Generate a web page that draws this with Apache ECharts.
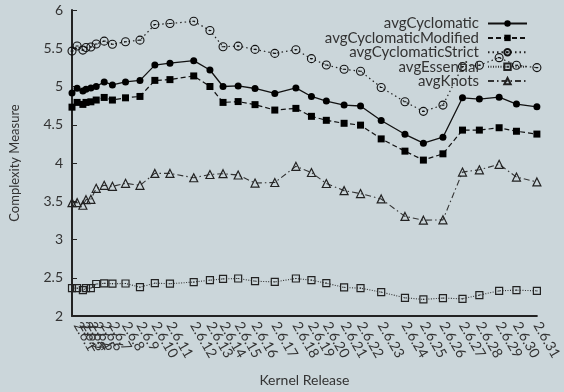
<!DOCTYPE html>
<html>
<head>
<meta charset="utf-8">
<script src="https://cdn.jsdelivr.net/npm/echarts@6/dist/echarts.min.js"></script>
<style>
  html, body { margin: 0; padding: 0; background: #cbd6da; }
  #chart { width: 564px; height: 392px; }
</style>
</head>
<body>
<div id="chart"></div>
<script>
// Linux 2.6 kernel releases and their release dates (x positions come from the dates)
const releases = ['2.6.0','2.6.1','2.6.2','2.6.3','2.6.4','2.6.5','2.6.6','2.6.7','2.6.8','2.6.9',
  '2.6.10','2.6.11','2.6.12','2.6.13','2.6.14','2.6.15','2.6.16','2.6.17','2.6.18','2.6.19',
  '2.6.20','2.6.21','2.6.22','2.6.23','2.6.24','2.6.25','2.6.26','2.6.27','2.6.28','2.6.29',
  '2.6.30','2.6.31'];
const releaseDates = ['2003-12-17','2004-01-09','2004-02-04','2004-02-18','2004-03-11','2004-04-04',
  '2004-05-10','2004-06-16','2004-08-14','2004-10-18','2004-12-24','2005-03-02','2005-06-17',
  '2005-08-29','2005-10-27','2006-01-03','2006-03-20','2006-06-17','2006-09-20','2006-11-29',
  '2007-02-04','2007-04-25','2007-07-08','2007-10-09','2008-01-24','2008-04-16','2008-07-13',
  '2008-10-09','2008-12-24','2009-03-23','2009-06-09','2009-09-09'];

// Average complexity measures per release
const avgCyclomatic = [4.915, 4.976, 4.94, 4.965, 4.98, 5.0, 5.06, 5.02, 5.06, 5.08, 5.28, 5.305,
  5.338, 5.216, 5.0, 5.008, 4.974, 4.909, 4.982, 4.87, 4.81, 4.757, 4.745, 4.555, 4.375, 4.259,
  4.337, 4.852, 4.835, 4.861, 4.77, 4.735];
const avgCyclomaticModified = [4.73, 4.792, 4.766, 4.792, 4.8, 4.823, 4.857, 4.823, 4.852, 4.87,
  5.08, 5.09, 5.138, 5.0, 4.792, 4.803, 4.763, 4.692, 4.714, 4.61, 4.558, 4.519, 4.495, 4.315,
  4.155, 4.038, 4.12, 4.43, 4.43, 4.461, 4.415, 4.378];
const avgCyclomaticStrict = [5.463, 5.53, 5.476, 5.51, 5.517, 5.555, 5.593, 5.552, 5.585, 5.606,
  5.81, 5.823, 5.853, 5.732, 5.52, 5.528, 5.485, 5.433, 5.481, 5.364, 5.281, 5.225, 5.2, 4.987,
  4.8, 4.675, 4.757, 5.26, 5.277, 5.377, 5.277, 5.247];
const avgEssential = [2.364, 2.364, 2.338, 2.364, 2.364, 2.418, 2.427, 2.422, 2.425, 2.377, 2.429,
  2.422, 2.444, 2.468, 2.485, 2.49, 2.455, 2.446, 2.49, 2.468, 2.429, 2.373, 2.364, 2.312, 2.238,
  2.217, 2.234, 2.225, 2.273, 2.329, 2.338, 2.329];
const avgKnots = [3.482, 3.482, 3.448, 3.521, 3.525, 3.669, 3.708, 3.695, 3.734, 3.708, 3.864,
  3.864, 3.807, 3.85, 3.86, 3.843, 3.738, 3.745, 3.957, 3.876, 3.732, 3.639, 3.6, 3.53, 3.302,
  3.253, 3.257, 3.881, 3.911, 3.983, 3.816, 3.753];

// y axis range and step
const yMin = 2, yMax = 6, yStep = 0.5;

const BG = '#cbd6da';
const FONT = 'Lato, "Open Sans", sans-serif';
const DAY_MS = 86400000;
const dayOf = s => Math.round(Date.parse(s + 'T00:00:00Z') / DAY_MS);
const releaseDays = releaseDates.map(dayOf);
const nameByDay = {};
releaseDays.forEach((d, i) => { nameByDay[d] = releases[i]; });
const pairs = vals => releaseDays.map((d, i) => [d, vals[i]]);

// point shapes: ring with a bar, box with a dot
const ringBar = 'path://M0,10A10,10 0 1 1 20,10A10,10 0 1 1 0,10ZM6.5,10L13.5,10';
const boxDot = 'path://M0,0L20,0L20,20L0,20ZM8.5,10L11.5,10';

function line(name, vals, opts) {
  return Object.assign({
    name: name,
    type: 'line',
    data: pairs(vals),
    showSymbol: true,
    animation: false,
    emphasis: { disabled: true }
  }, opts);
}

const series = [
  line('avgCyclomatic', avgCyclomatic, {
    symbol: 'circle', symbolSize: 7,
    itemStyle: { color: '#000' },
    lineStyle: { color: '#111', width: 1.3, type: 'solid' }
  }),
  line('avgCyclomaticModified', avgCyclomaticModified, {
    symbol: 'rect', symbolSize: 7,
    itemStyle: { color: '#000' },
    lineStyle: { color: '#111', width: 1.2, type: [5, 3] }
  }),
  line('avgCyclomaticStrict', avgCyclomaticStrict, {
    symbol: ringBar, symbolSize: 8,
    itemStyle: { color: 'rgba(0,0,0,0)', borderColor: '#111', borderWidth: 1.1 },
    lineStyle: { color: '#222', width: 1.2, type: [1.5, 3] }
  }),
  line('avgEssential', avgEssential, {
    symbol: boxDot, symbolSize: 7,
    itemStyle: { color: 'rgba(0,0,0,0)', borderColor: '#222', borderWidth: 1.2 },
    lineStyle: { color: '#333', width: 1.1, type: [1, 1.5] }
  }),
  line('avgKnots', avgKnots, {
    symbol: 'triangle', symbolSize: 8,
    itemStyle: { color: 'rgba(0,0,0,0)', borderColor: '#222', borderWidth: 1.2 },
    lineStyle: { color: '#333', width: 1.1, type: [6, 3, 1.5, 3] }
  })
];

const chart = echarts.init(document.getElementById('chart'), null, { renderer: 'canvas' });
chart.setOption({
  backgroundColor: BG,
  animation: false,
  textStyle: { fontFamily: FONT, color: '#333' },
  grid: { left: 70, right: 19, top: 10, bottom: 74, containLabel: false },
  legend: {
    orient: 'vertical',
    right: 36,
    top: 16,
    align: 'right',
    itemWidth: 39,
    itemHeight: 8,
    itemGap: -0.6,
    padding: 0,
    textStyle: { fontFamily: FONT, fontSize: 15, lineHeight: 12, color: '#333', padding: [0, 4, 0, 0] },
    data: series.map(s => s.name)
  },
  xAxis: {
    type: 'value',
    min: releaseDays[0],
    max: releaseDays[releaseDays.length - 1],
    name: 'Kernel Release',
    nameLocation: 'middle',
    nameGap: 57,
    nameTextStyle: { fontFamily: FONT, fontSize: 14, color: '#333' },
    axisLine: { show: true, lineStyle: { color: '#222', width: 2 } },
    axisTick: { show: false },
    splitLine: { show: false },
    axisLabel: {
      customValues: releaseDays,
      rotate: -60,
      margin: 7,
      fontFamily: FONT,
      fontSize: 14,
      color: '#333',
      hideOverlap: false,
      formatter: v => nameByDay[Math.round(v)] || ''
    }
  },
  yAxis: {
    type: 'value',
    min: yMin,
    max: yMax,
    interval: yStep,
    name: 'Complexity Measure',
    nameLocation: 'middle',
    nameGap: 51,
    nameTextStyle: { fontFamily: FONT, fontSize: 13, color: '#333' },
    axisLine: { show: true, lineStyle: { color: '#222', width: 2 } },
    axisTick: { show: true, inside: true, length: 5, lineStyle: { color: '#222', width: 1 } },
    splitLine: { show: false },
    axisLabel: { margin: 9, fontFamily: FONT, fontSize: 14, color: '#333' }
  },
  series: series
});
</script>
</body>
</html>
